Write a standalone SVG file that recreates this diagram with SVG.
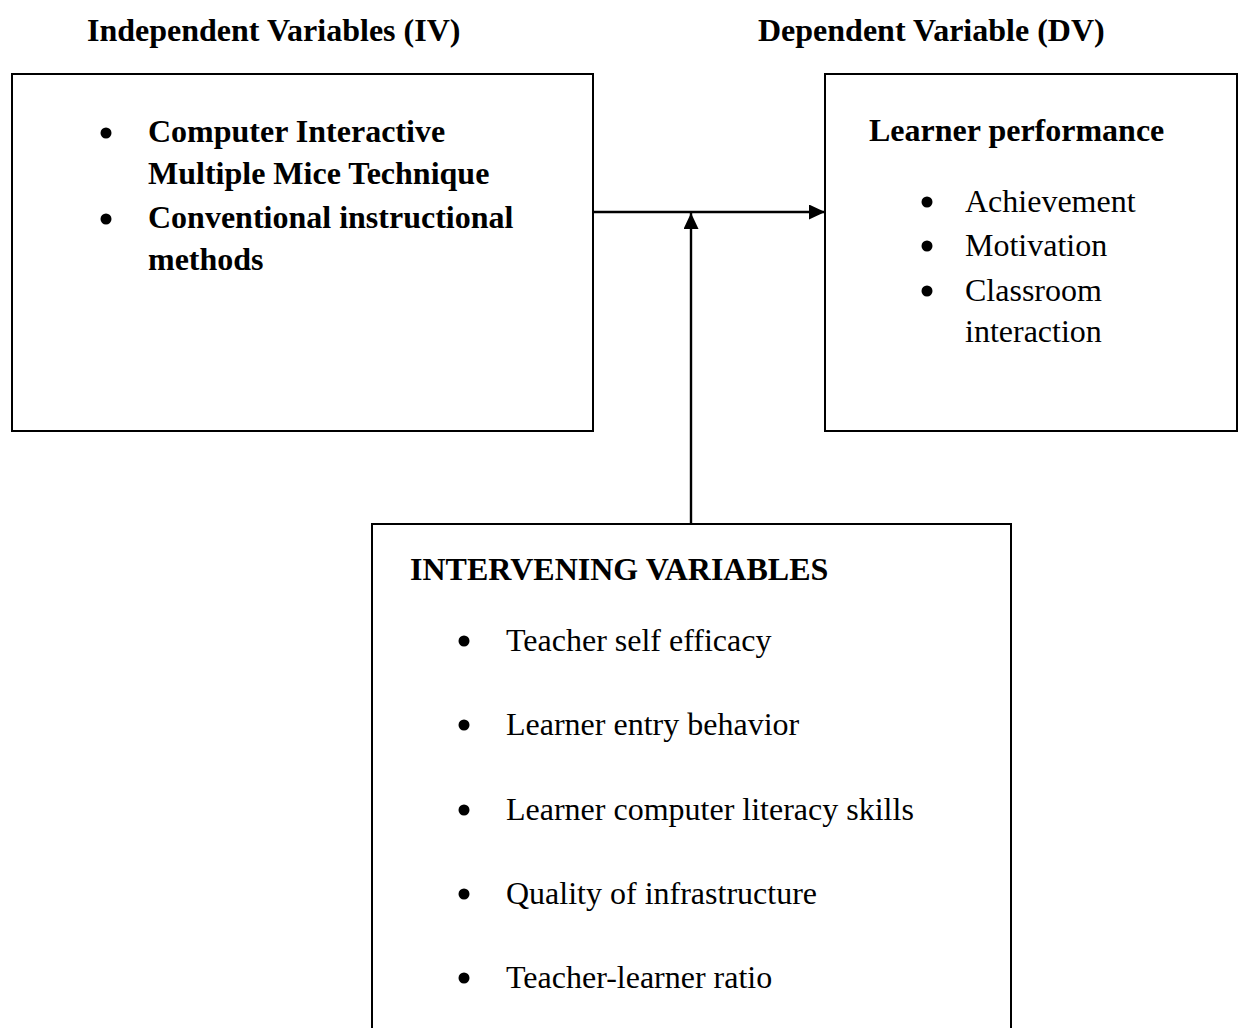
<svg xmlns="http://www.w3.org/2000/svg" width="1239" height="1028" viewBox="0 0 1239 1028">
<defs>
<style>
.box{fill:#fff;stroke:#000;stroke-width:2}
.t{font-family:"Liberation Serif","Times New Roman",serif;font-size:32px;fill:#000}
.b{font-weight:bold}
.h{font-family:"Liberation Serif","Times New Roman",serif;font-size:32px;font-weight:bold;fill:#000}
.ln{stroke:#000;stroke-width:2.4;fill:none}
.dot{fill:#000}
</style>
<marker id="ah" viewBox="0 0 10 10" refX="10" refY="5" markerWidth="16" markerHeight="15" markerUnits="userSpaceOnUse" orient="auto" preserveAspectRatio="none">
<path d="M0,0 L10,5 L0,10 z" fill="#000"/>
</marker>
</defs>
<rect width="1239" height="1028" fill="#fff"/>
<g id="titles">
<text class="h" x="87" y="41">Independent Variables (IV)</text>
<text class="h" x="758" y="41">Dependent Variable (DV)</text>
</g>
<g id="iv">
<rect class="box" x="12" y="74" width="581" height="357"/>
<circle class="dot" cx="106" cy="133" r="5.5"/>
<text class="t b" x="148" y="142">Computer Interactive</text>
<text class="t b" x="148" y="184">Multiple Mice Technique</text>
<circle class="dot" cx="106" cy="219" r="5.5"/>
<text class="t b" x="148" y="228">Conventional instructional</text>
<text class="t b" x="148" y="270">methods</text>
</g>
<g id="dv">
<rect class="box" x="825" y="74" width="412" height="357"/>
<text class="t b" x="869" y="141">Learner performance</text>
<circle class="dot" cx="927" cy="202" r="5.5"/>
<text class="t" x="965" y="212">Achievement</text>
<circle class="dot" cx="927" cy="246" r="5.5"/>
<text class="t" x="965" y="256">Motivation</text>
<circle class="dot" cx="927" cy="291" r="5.5"/>
<text class="t" x="965" y="301">Classroom</text>
<text class="t" x="965" y="342">interaction</text>
</g>
<g id="intervening">
<rect class="box" x="372" y="524" width="639" height="520"/>
<text class="t b" x="410" y="580">INTERVENING VARIABLES</text>
<circle class="dot" cx="464" cy="641" r="5.5"/>
<text class="t" x="506" y="651">Teacher self efficacy</text>
<circle class="dot" cx="464" cy="725" r="5.5"/>
<text class="t" x="506" y="735">Learner entry behavior</text>
<circle class="dot" cx="464" cy="810" r="5.5"/>
<text class="t" x="506" y="820">Learner computer literacy skills</text>
<circle class="dot" cx="464" cy="894" r="5.5"/>
<text class="t" x="506" y="904">Quality of infrastructure</text>
<circle class="dot" cx="464" cy="978" r="5.5"/>
<text class="t" x="506" y="988">Teacher-learner ratio</text>
</g>
<g id="connectors">
<line class="ln" x1="593" y1="212" x2="825" y2="212" marker-end="url(#ah)"/>
<line class="ln" x1="691" y1="524" x2="691" y2="213" marker-end="url(#ah)"/>
</g>
</svg>
